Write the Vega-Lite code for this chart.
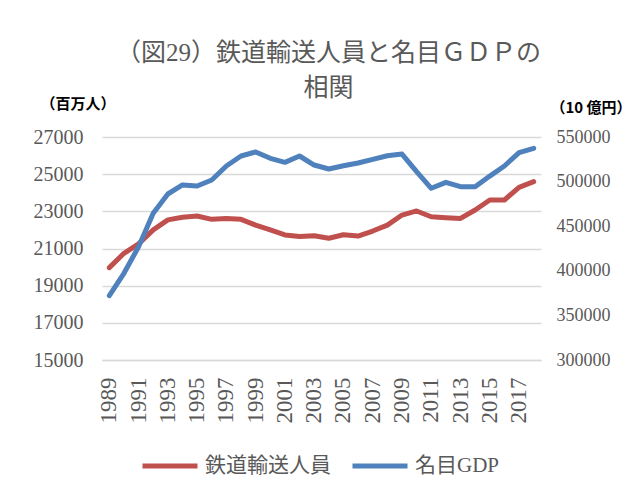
{
  "$schema": "https://vega.github.io/schema/vega-lite/v6.json",
  "autosize": {"type": "none"},
  "width": 439,
  "height": 223,
  "padding": {"left": 102, "top": 137, "right": 91, "bottom": 138},
  "background": "#ffffff",
  "title": {
    "text": ["（図29）鉄道輸送人員と名目ＧＤＰの", "相関"],
    "anchor": "middle",
    "frame": "group",
    "offset": 38,
    "dx": 7,
    "dy": 43,
    "fontSize": 25,
    "lineHeight": 35,
    "font": "Liberation Serif, Noto Sans CJK JP",
    "fontWeight": "normal",
    "color": "#595959"
  },
  "data": {
    "values": [
      {"year": 1989, "rail": 19970, "gdp": 372100},
      {"year": 1990, "rail": 20740, "gdp": 397200},
      {"year": 1991, "rail": 21250, "gdp": 427000},
      {"year": 1992, "rail": 22000, "gdp": 464400},
      {"year": 1993, "rail": 22540, "gdp": 486100},
      {"year": 1994, "rail": 22680, "gdp": 496200},
      {"year": 1995, "rail": 22750, "gdp": 495100},
      {"year": 1996, "rail": 22570, "gdp": 501800},
      {"year": 1997, "rail": 22620, "gdp": 517500},
      {"year": 1998, "rail": 22570, "gdp": 528700},
      {"year": 1999, "rail": 22260, "gdp": 533200},
      {"year": 2000, "rail": 22000, "gdp": 526100},
      {"year": 2001, "rail": 21730, "gdp": 521600},
      {"year": 2002, "rail": 21640, "gdp": 528700},
      {"year": 2003, "rail": 21690, "gdp": 518600},
      {"year": 2004, "rail": 21550, "gdp": 514100},
      {"year": 2005, "rail": 21740, "gdp": 517800},
      {"year": 2006, "rail": 21670, "gdp": 520800},
      {"year": 2007, "rail": 21940, "gdp": 525000},
      {"year": 2008, "rail": 22260, "gdp": 529000},
      {"year": 2009, "rail": 22800, "gdp": 530900},
      {"year": 2010, "rail": 23020, "gdp": 511100},
      {"year": 2011, "rail": 22710, "gdp": 492500},
      {"year": 2012, "rail": 22660, "gdp": 499200},
      {"year": 2013, "rail": 22620, "gdp": 494300},
      {"year": 2014, "rail": 23070, "gdp": 494300},
      {"year": 2015, "rail": 23610, "gdp": 506200},
      {"year": 2016, "rail": 23610, "gdp": 517500},
      {"year": 2017, "rail": 24290, "gdp": 532400},
      {"year": 2018, "rail": 24600, "gdp": 537300}
    ]
  },
  "encoding": {
    "x": {
      "field": "year",
      "type": "ordinal",
      "scale": {"type": "band", "paddingInner": 0, "paddingOuter": 0},
      "axis": {
        "title": null,
        "values": [1989, 1991, 1993, 1995, 1997, 1999, 2001, 2003, 2005, 2007, 2009, 2011, 2013, 2015, 2017],
        "labelAngle": 270,
        "labelFont": "Liberation Serif",
        "labelFontSize": 23,
        "labelColor": "#595959",
        "labelPadding": 17,
        "ticks": false,
        "domain": true,
        "domainColor": "#d9d9d9",
        "domainWidth": 1.5,
        "grid": false
      }
    }
  },
  "layer": [
    {
      "mark": {"type": "line", "strokeWidth": 5, "strokeCap": "round", "strokeJoin": "round"},
      "encoding": {
        "y": {
          "field": "rail",
          "type": "quantitative",
          "scale": {"domain": [15000, 27000], "nice": false, "zero": false},
          "axis": {
            "orient": "left",
            "values": [15000, 17000, 19000, 21000, 23000, 25000, 27000],
            "format": "d",
            "labelFont": "Liberation Serif",
            "labelFontSize": 20,
            "labelColor": "#595959",
            "labelPadding": 19,
            "ticks": false,
            "domain": false,
            "grid": true,
            "gridColor": "#d9d9d9",
            "gridWidth": 1.5,
            "title": "（百万人）",
            "titleAngle": 0,
            "titleX": -62,
            "titleY": -34,
            "titleAlign": "left",
            "titleBaseline": "middle",
            "titleFont": "Noto Sans CJK JP",
            "titleFontSize": 15,
            "titleFontWeight": "bold",
            "titleColor": "#000000"
          }
        },
        "color": {"datum": "鉄道輸送人員", "type": "nominal"}
      }
    },
    {
      "mark": {"type": "line", "strokeWidth": 5, "strokeCap": "round", "strokeJoin": "round"},
      "encoding": {
        "y": {
          "field": "gdp",
          "type": "quantitative",
          "scale": {"domain": [300000, 550000], "nice": false, "zero": false},
          "axis": {
            "orient": "right",
            "values": [300000, 350000, 400000, 450000, 500000, 550000],
            "format": "d",
            "labelFont": "Liberation Serif",
            "labelFontSize": 18,
            "labelColor": "#595959",
            "labelPadding": 15,
            "ticks": false,
            "domain": false,
            "grid": false,
            "title": "（10 億円）",
            "titleAngle": 0,
            "titleX": 9,
            "titleY": -30,
            "titleAlign": "left",
            "titleBaseline": "middle",
            "titleFont": "Noto Sans CJK JP",
            "titleFontSize": 15,
            "titleFontWeight": "bold",
            "titleColor": "#000000"
          }
        },
        "color": {"datum": "名目GDP", "type": "nominal"}
      }
    }
  ],
  "resolve": {"scale": {"y": "independent"}},
  "config": {
    "view": {"stroke": null},
    "range": {"category": ["#c0504d", "#4f81bd"]},
    "legend": {
      "orient": "none",
      "legendX": 38,
      "legendY": 299,
      "direction": "horizontal",
      "title": null,
      "symbolType": "stroke",
      "symbolSize": 3025,
      "symbolStrokeWidth": 5,
      "labelFont": "Liberation Serif, Noto Sans CJK JP",
      "labelFontSize": 21,
      "labelColor": "#595959",
      "labelOffset": 5,
      "columnPadding": 11
    }
  }
}
